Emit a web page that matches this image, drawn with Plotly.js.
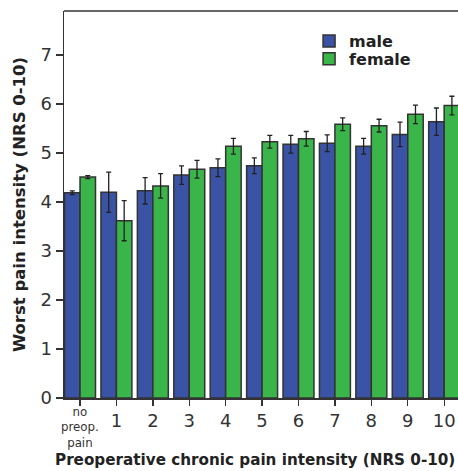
<!DOCTYPE html>
<html>
<head>
<meta charset="utf-8">
<script src="https://cdn.plot.ly/plotly-3.0.1.min.js"></script>
<style>html,body{margin:0;padding:0;background:#fff;overflow:hidden}#chart{width:458px;height:471px}</style>
</head>
<body>
<div id="chart"></div>
<script>
// Data
const categories = ["no preop. pain", "1", "2", "3", "4", "5", "6", "7", "8", "9", "10"];
const tickLabels = ["no<br>preop.<br>pain", "1", "2", "3", "4", "5", "6", "7", "8", "9", "10"];
const maleValues   = [4.19, 4.20, 4.23, 4.55, 4.70, 4.74, 5.18, 5.20, 5.14, 5.38, 5.64];
const maleErrors   = [0.04, 0.41, 0.27, 0.19, 0.18, 0.16, 0.18, 0.17, 0.16, 0.25, 0.28];
const femaleValues = [4.51, 3.62, 4.33, 4.67, 5.14, 5.23, 5.29, 5.59, 5.56, 5.79, 5.97];
const femaleErrors = [0.03, 0.41, 0.25, 0.18, 0.16, 0.13, 0.15, 0.13, 0.13, 0.19, 0.19];
const yTicks = [0, 1, 2, 3, 4, 5, 6, 7];
const xTitle = "Preoperative chronic pain intensity (NRS 0-10)";
const yTitle = "Worst pain intensity (NRS 0-10)";

const FONT = "'DejaVu Sans', Arial, Helvetica, sans-serif";
const INK = "#333333";
const xIdx = categories.map((_, i) => i);

function barTrace(name, values, errors, color, legendId) {
  return {
    type: "bar", name: name, x: xIdx, y: values, legend: legendId,
    marker: {color: color, line: {color: INK, width: 1.5}},
    error_y: {type: "data", array: errors, visible: true, color: "#222222", thickness: 1.3, width: 2.5}
  };
}

const data = [
  barTrace("male", maleValues, maleErrors, "#3a53a4", "legend"),
  barTrace("female", femaleValues, femaleErrors, "#39b54a", "legend2")
];

const annotations = [
  // compact multi-line first tick label drawn under its tick
  {text: tickLabels[0], xref: "x", x: 0, yref: "paper", y: 0, xanchor: "center", yanchor: "top",
   yshift: -6, borderpad: 0, showarrow: false, font: {family: FONT, size: 11.8, color: INK}},
  // x-axis title, centred slightly left of the plot centre as in the reference
  {text: "<b>" + xTitle + "</b>", xref: "paper", x: 0.484, yref: "paper", y: 0, xanchor: "center", yanchor: "middle",
   yshift: -61.5, borderpad: 0, showarrow: false, font: {family: FONT, size: 15.2, color: "#222222"}}
];

const legendBase = {
  x: 0.622, xanchor: "left", yanchor: "top",
  bgcolor: "rgba(0,0,0,0)", borderwidth: 0,
  font: {family: FONT, size: 16, color: "#222222", weight: "bold"},
  itemwidth: 30, tracegroupgap: 0
};

const layout = {
  width: 458, height: 471,
  margin: {l: 64, r: 0, t: 11, b: 73},
  paper_bgcolor: "#ffffff", plot_bgcolor: "#ffffff",
  barmode: "group", bargap: 0.15, bargroupgap: 0,
  font: {family: FONT, color: INK},
  xaxis: {
    range: [-0.44, 10.38], tickmode: "array", tickvals: xIdx,
    ticktext: tickLabels.map((t, i) => i === 0 ? "" : t),
    tickfont: {size: 18, color: INK},
    ticks: "outside", ticklen: 6, tickwidth: 1.3, tickcolor: INK,
    showline: true, linecolor: INK, linewidth: 1.5, showgrid: false, zeroline: false
  },
  yaxis: {
    range: [0, 7.9], tickmode: "array", tickvals: yTicks, ticktext: yTicks.map(String),
    tickfont: {size: 18, color: INK},
    ticks: "outside", ticklen: 7, tickwidth: 1.3, tickcolor: INK,
    showline: true, linecolor: INK, linewidth: 1.5, showgrid: false, zeroline: false,
    title: {text: "<b>" + yTitle + "</b>", font: {size: 16.5, color: "#222222"}, standoff: 10}
  },
  shapes: [{type: "line", xref: "paper", yref: "paper", x0: 0, x1: 1, y0: 1, y1: 1, line: {color: INK, width: 1.5}}],
  annotations: annotations,
  legend: Object.assign({}, legendBase, {y: 0.966}),
  legend2: Object.assign({}, legendBase, {y: 0.920}),
  showlegend: true
};

Plotly.newPlot("chart", data, layout, {displayModeBar: false, staticPlot: true});
</script>
</body>
</html>
